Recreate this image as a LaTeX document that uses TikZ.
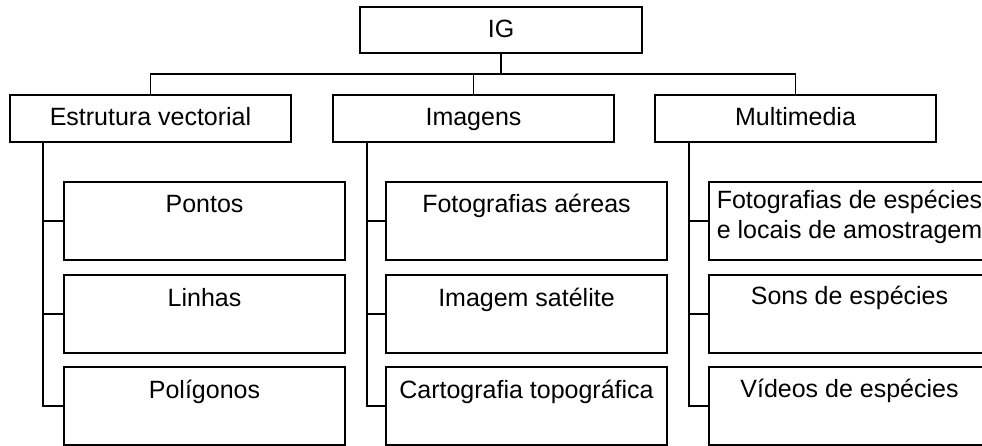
\documentclass[tikz,border=0pt]{standalone}
\usepackage{fontspec}
\setmainfont{Liberation Sans}
\usetikzlibrary{calc}
\begin{document}
\begin{tikzpicture}[x=1pt,y=-1pt,
  every node/.style={inner sep=0pt,outer sep=0pt},
  box/.style={draw,line width=1.8pt,rectangle,minimum width=281pt,font=\fontsize{25}{30}\selectfont},
  topbox/.style={box,minimum height=46pt,text height=17pt,text depth=2pt},
  childbox/.style={box,minimum height=78pt},
  childtext/.style={anchor=base,align=center,font=\fontsize{25}{30}\selectfont},
  conn/.style={draw,line width=1.8pt}]
\clip (0,0) rectangle (982,446);
\useasboundingbox (0,0) rectangle (982,446);
% root
\node[topbox,minimum width=282pt] (ig) at (501,30) {IG};
% level 1
\node[topbox,minimum height=47pt] (ev) at (150.5,118.5) {Estrutura vectorial};
\node[topbox,minimum height=47pt] (im) at (473.5,118.5) {Imagens};
\node[topbox,minimum height=47pt] (mm) at (795.5,118.5) {Multimedia};
% bus
\coordinate (bus) at (501,74);
\draw[conn] (ig.south) -- (bus);
\draw[conn] (ev.north) -- (ev.north |- bus) -- (mm.north |- bus) -- (mm.north);
\draw[conn] (im.north) -- (im.north |- bus);
% children boxes
\node[childbox] (p1) at (204.5,221) {};
\node[childbox] (p2) at (204.5,314) {};
\node[childbox] (p3) at (204.5,406) {};
\node[childbox] (i1) at (526.5,221) {};
\node[childbox] (i2) at (526.5,314) {};
\node[childbox] (i3) at (526.5,406) {};
\node[childbox] (m1) at (849.5,221) {};
\node[childbox] (m2) at (849.5,314) {};
\node[childbox] (m3) at (849.5,406) {};
% children texts
\node[childtext] (p1t) at ($(p1.north)+(0,31)$) {Pontos};
\node[childtext] (p2t) at ($(p2.north)+(0,31)$) {Linhas};
\node[childtext] (p3t) at ($(p3.north)+(0,31)$) {Polígonos};
\node[childtext] (i1t) at ($(i1.north)+(0,31)$) {Fotografias aéreas};
\node[childtext] (i2t) at ($(i2.north)+(0,31)$) {Imagem satélite};
\node[childtext] (i3t) at ($(i3.north)+(0,31)$) {Cartografia topográfica};
\node[childtext,anchor=north] (m1t) at ($(m1.north)+(0,8)$) {Fotografias de espécies\\e locais de amostragem};
\node[childtext] (m2t) at ($(m2.north)+(0,30)$) {Sons de espécies};
\node[childtext] (m3t) at ($(m3.north)+(0,30)$) {Vídeos de espécies};
% stems
\coordinate (evs) at ($(ev.south west)+(33,0)$);
\coordinate (ims) at ($(im.south west)+(34,0)$);
\coordinate (mms) at ($(mm.south west)+(34,0)$);
\draw[conn] (evs) |- (p3.west);
\draw[conn] (p1.west) -- (p1.west -| evs);
\draw[conn] (p2.west) -- (p2.west -| evs);
\draw[conn] (ims) |- (i3.west);
\draw[conn] (i1.west) -- (i1.west -| ims);
\draw[conn] (i2.west) -- (i2.west -| ims);
\draw[conn] (mms) |- (m3.west);
\draw[conn] (m1.west) -- (m1.west -| mms);
\draw[conn] (m2.west) -- (m2.west -| mms);
\end{tikzpicture}
\end{document}
